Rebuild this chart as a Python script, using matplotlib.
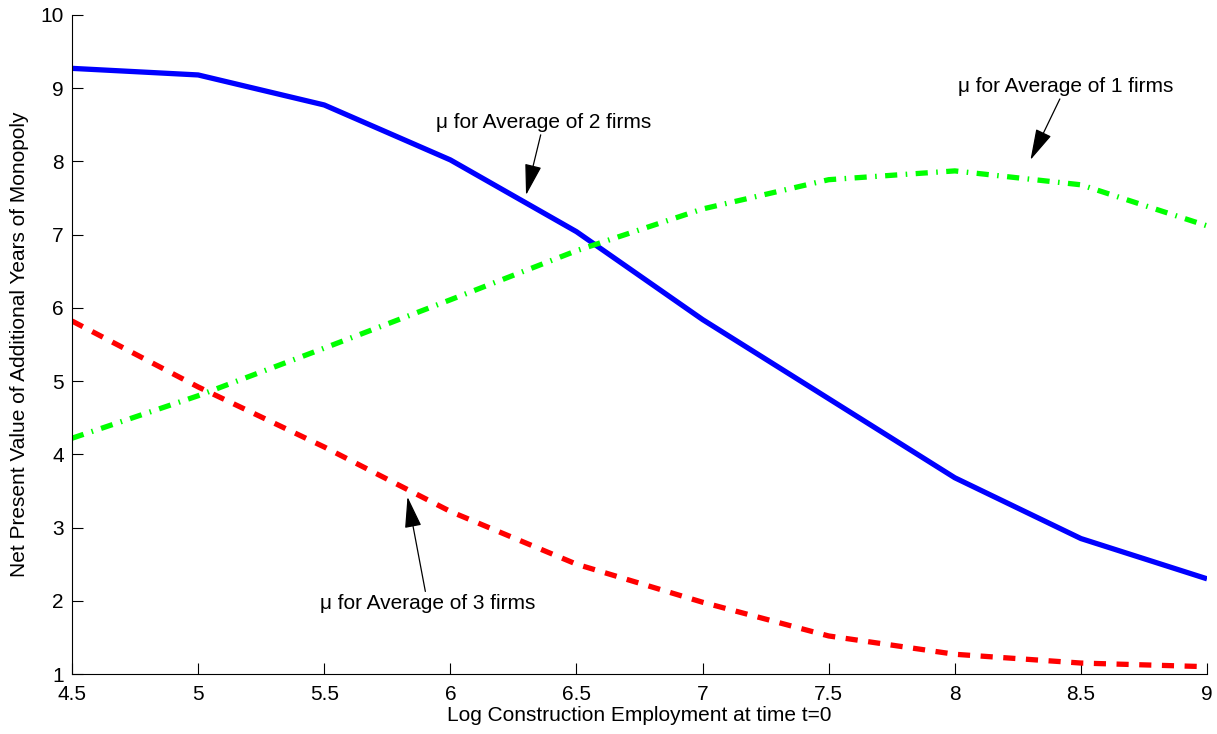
import matplotlib
matplotlib.use('Agg')
import matplotlib.pyplot as plt

# log construction employment grid
x = [4.5, 5.0, 5.5, 6.0, 6.5, 7.0, 7.5, 8.0, 8.5, 9.0]

mu_2firms = [9.27, 9.18, 8.77, 8.02, 7.04, 5.84, 4.76, 3.68, 2.85, 2.30]
mu_1firms = [4.22, 4.80, 5.45, 6.11, 6.78, 7.35, 7.75, 7.87, 7.68, 7.12]
mu_3firms = [5.82, 4.92, 4.10, 3.22, 2.50, 1.98, 1.52, 1.27, 1.15, 1.10]

plt.rcParams['font.family'] = ['Liberation Sans', 'DejaVu Sans']

fig = plt.figure(figsize=(12.17, 7.34), dpi=100)
ax = fig.add_axes([0.0592, 0.0817, 0.9326, 0.898])

lw = 3.8
ax.plot(x, mu_2firms, color='#0000ff', lw=lw, solid_capstyle='butt')
ax.plot(x, mu_1firms, color='#00ff00', lw=lw, linestyle=(0, (2.3, 1.6, 0.3, 1.6)))
ax.plot(x, mu_3firms, color='#ff0000', lw=lw, linestyle=(0, (2.3, 2.0)))

ax.set_xlim(4.5, 9)
ax.set_ylim(1, 10)
ax.set_xticks([4.5, 5, 5.5, 6, 6.5, 7, 7.5, 8, 8.5, 9])
ax.set_xticklabels(['4.5', '5', '5.5', '6', '6.5', '7', '7.5', '8', '8.5', '9'])
ax.set_yticks(range(1, 11))
ax.tick_params(direction='in', length=8, width=0.8, labelsize=15)
ax.tick_params(axis='x', pad=8)
ax.tick_params(axis='y', pad=6)
for s in ['top', 'right']:
    ax.spines[s].set_visible(False)

ax.set_xlabel('Log Construction Employment at time t=0', fontsize=15, labelpad=1)
ax.set_ylabel('Net Present Value of Additional Years of Monopoly', fontsize=15, labelpad=8)

arrow = dict(arrowstyle='-|>,head_length=1.3,head_width=0.35', color='black', lw=0.9,
             shrinkA=0, shrinkB=0)
ax.annotate('\u03bc for Average of 2 firms', xy=(6.30, 7.54), xytext=(6.37, 8.53),
            fontsize=15, ha='center', va='center', arrowprops=arrow)
ax.annotate('\u03bc for Average of 1 firms', xy=(8.30, 8.02), xytext=(8.44, 9.02),
            fontsize=15, ha='center', va='center', arrowprops=arrow)
ax.annotate('\u03bc for Average of 3 firms', xy=(5.83, 3.42), xytext=(5.91, 1.96),
            fontsize=15, ha='center', va='center', arrowprops=arrow)

plt.savefig('out.png', dpi=100, facecolor='white')
